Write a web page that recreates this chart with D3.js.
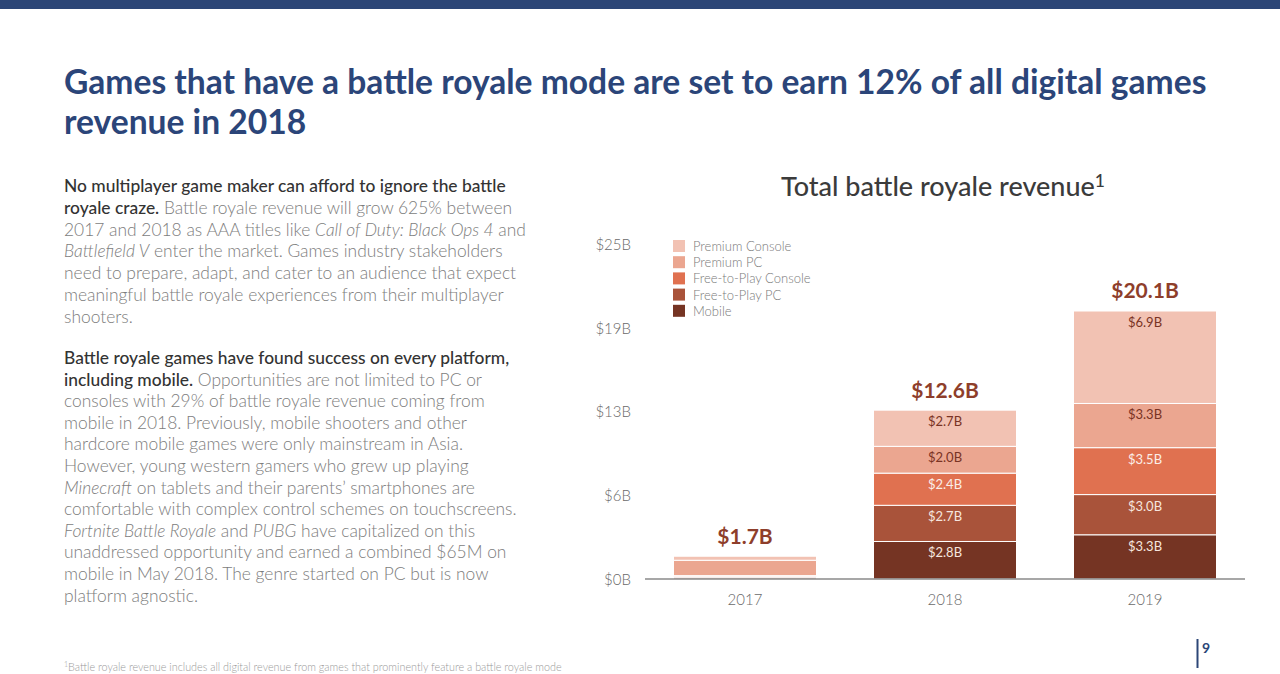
<!DOCTYPE html>
<html><head><meta charset="utf-8">
<script src="https://cdn.jsdelivr.net/npm/d3@7"></script>
<style>
html,body{margin:0;padding:0;background:#fff;}
svg{display:block;font-family:Lato,"Open Sans",sans-serif;}
</style></head>
<body>
<svg id="c" width="1280" height="674"></svg>
<script>
// ---- data ----
const years = ["2017", "2018", "2019"];
const series = ["Mobile", "Free-to-Play PC", "Free-to-Play Console", "Premium PC", "Premium Console"];
const mobile = [0.1, 2.8, 3.3];
const f2pPC = [0.1, 2.7, 3.0];
const f2pConsole = [0.05, 2.4, 3.5];
const premiumPC = [1.15, 2.0, 3.3];
const premiumConsole = [0.3, 2.7, 6.9];
const totals = [1.7, 12.6, 20.1];
const segLabels2018 = ["$2.8B", "$2.7B", "$2.4B", "$2.0B", "$2.7B"];
const segLabels2019 = ["$3.3B", "$3.0B", "$3.5B", "$3.3B", "$6.9B"];
const tickValues = [0, 6.25, 12.5, 18.75, 25];
const tickLabels = ["$0B", "$6B", "$13B", "$19B", "$25B"];
const totalLabels = ["$1.7B", "$12.6B", "$20.1B"];

const colors = ["#753423", "#A9533A", "#E07150", "#EBA690", "#F2C2B3"];
const labelColors = ["#f6e6df", "#f6e6df", "#fbeee8", "#7a3324", "#7a3324"];

const svg = d3.select("#c");

// top stripe
svg.append("rect").attr("x",0).attr("y",0).attr("width",1280).attr("height",9).attr("fill","#2C4677");

// title
const title = svg.append("text").attr("x",64).attr("fill","#2B4579")
  .attr("font-size",33.6).attr("font-weight",700);
title.append("tspan").attr("x",64).attr("y",94).text("Games that have a battle royale mode are set to earn 12% of all digital games");
title.append("tspan").attr("x",64).attr("y",134).text("revenue in 2018");

// body text
const para1 = [
  [["b","No multiplayer game maker can afford to ignore the battle"]],
  [["b","royale craze."],["n"," Battle royale revenue will grow 625% between"]],
  [["n","2017 and 2018 as AAA titles like "],["i","Call of Duty: Black Ops 4"],["n"," and"]],
  [["i","Battlefield V"],["n"," enter the market. Games industry stakeholders"]],
  [["n","need to prepare, adapt, and cater to an audience that expect"]],
  [["n","meaningful battle royale experiences from their multiplayer"]],
  [["n","shooters."]]
];
const para2 = [
  [["b","Battle royale games have found success on every platform,"]],
  [["b","including mobile."],["n"," Opportunities are not limited to PC or"]],
  [["n","consoles with 29% of battle royale revenue coming from"]],
  [["n","mobile in 2018. Previously, mobile shooters and other"]],
  [["n","hardcore mobile games were only mainstream in Asia."]],
  [["n","However, young western gamers who grew up playing"]],
  [["i","Minecraft"],["n"," on tablets and their parents\u2019 smartphones are"]],
  [["n","comfortable with complex control schemes on touchscreens."]],
  [["i","Fortnite Battle Royale"],["n"," and "],["i","PUBG"],["n"," have capitalized on this"]],
  [["n","unaddressed opportunity and earned a combined $65M on"]],
  [["n","mobile in May 2018. The genre started on PC but is now"]],
  [["n","platform agnostic."]]
];
function drawPara(lines, y0, lh){
  lines.forEach((runs,i)=>{
    const t = svg.append("text").attr("x",64).attr("y",y0+i*lh).attr("font-size",17.4);
    runs.forEach(r=>{
      const s = t.append("tspan").text(r[1]);
      if(r[0]==="b"){ s.attr("fill","#333").attr("font-weight",500); }
      else { s.attr("fill","#7d7d7d").attr("font-weight",300); if(r[0]==="i") s.attr("font-style","italic"); }
    });
  });
}
drawPara(para1, 192, 21.8);
drawPara(para2, 364, 21.6);

// footnote
const fn = svg.append("text").attr("x",64).attr("y",671).attr("font-size",10.8).attr("fill","#9a9a9a").attr("font-weight",300);
fn.append("tspan").attr("font-size",7).attr("dy",-4).text("1");
fn.append("tspan").attr("dy",4).text("Battle royale revenue includes all digital revenue from games that prominently feature a battle royale mode");

// page number
svg.append("line").attr("x1",1197.5).attr("x2",1197.5).attr("y1",639).attr("y2",668).attr("stroke","#2C4677").attr("stroke-width",2);
svg.append("text").attr("x",1202).attr("y",653).attr("font-size",14).attr("font-weight",700).attr("fill","#2C4677").text("9");

// chart title
const ct = svg.append("text").attr("x",943).attr("y",196).attr("text-anchor","middle")
  .attr("font-size",27).attr("font-weight",500).attr("fill","#3b3b3b");
ct.append("tspan").text("Total battle royale revenue");
ct.append("tspan").attr("font-size",17.5).attr("dy",-9).text("1");

// scales
const x = d3.scaleBand().domain(years).range([645,1245]).paddingInner(0.285).paddingOuter(0.1425);
const y = d3.scaleLinear().domain([0,25]).range([579,244]);

// y axis labels
const yAxis = d3.axisLeft(y).tickValues(tickValues).tickFormat((d,i)=>tickLabels[i]).tickSize(0).tickPadding(0);
const ya = svg.append("g").attr("transform","translate(631,0)").call(yAxis);
ya.select(".domain").remove();
ya.selectAll("text").attr("font-size",15).attr("fill","#6a6a6a").attr("font-family","Lato").attr("font-weight",300).attr("dy","0.35em");

// x axis
const xAxis = d3.axisBottom(x).tickSize(0).tickPadding(12);
const xa = svg.append("g").attr("transform","translate(0,579)").call(xAxis);
xa.select(".domain").attr("stroke","#8a8a8a").attr("stroke-width",1.5).attr("d","M645,0H1245");
xa.selectAll("text").attr("font-size",15).attr("fill","#6a6a6a").attr("font-family","Lato").attr("font-weight",300).attr("dy","0.9em");

// stack
const table = years.map((yr,i)=>({year:yr, "Mobile":mobile[i], "Free-to-Play PC":f2pPC[i], "Free-to-Play Console":f2pConsole[i], "Premium PC":premiumPC[i], "Premium Console":premiumConsole[i]}));
const stacked = d3.stack().keys(series)(table);

const gBars = svg.insert("g", "g");
stacked.forEach((layer,k)=>{
  gBars.selectAll(null).data(layer).enter().append("rect")
    .attr("x",d=>x(d.data.year))
    .attr("width",x.bandwidth())
    .attr("y",d=>y(d[1]))
    .attr("height",d=>Math.max(0,y(d[0])-y(d[1])))
    .attr("fill",colors[k])
    .attr("stroke","#fff").attr("stroke-width",1);
});

// segment labels
const segLabels = {"2018":segLabels2018, "2019":segLabels2019};
stacked.forEach((layer,k)=>{
  layer.forEach(d=>{
    const lbls = segLabels[d.data.year];
    if(!lbls) return;
    svg.append("text").attr("x",x(d.data.year)+x.bandwidth()/2).attr("y",y(d[1])+16)
      .attr("text-anchor","middle").attr("font-size",13).attr("fill",labelColors[k])
      .text(lbls[k]);
  });
});

// totals
years.forEach((yr,i)=>{
  svg.append("text").attr("x",x(yr)+x.bandwidth()/2).attr("y",y(totals[i])-12)
    .attr("text-anchor","middle").attr("font-size",21).attr("font-weight",700).attr("fill","#8E3E2B")
    .text(totalLabels[i]);
});

// legend
const legendOrder = ["Premium Console","Premium PC","Free-to-Play Console","Free-to-Play PC","Mobile"];
legendOrder.forEach((s,i)=>{
  const k = series.indexOf(s);
  svg.append("rect").attr("x",673).attr("y",240+i*16.2).attr("width",12).attr("height",12).attr("fill",colors[k]);
  svg.append("text").attr("x",693).attr("y",251+i*16.2).attr("font-size",13).attr("fill","#7a7a7a").attr("font-weight",300).text(s);
});
</script>
</body></html>
